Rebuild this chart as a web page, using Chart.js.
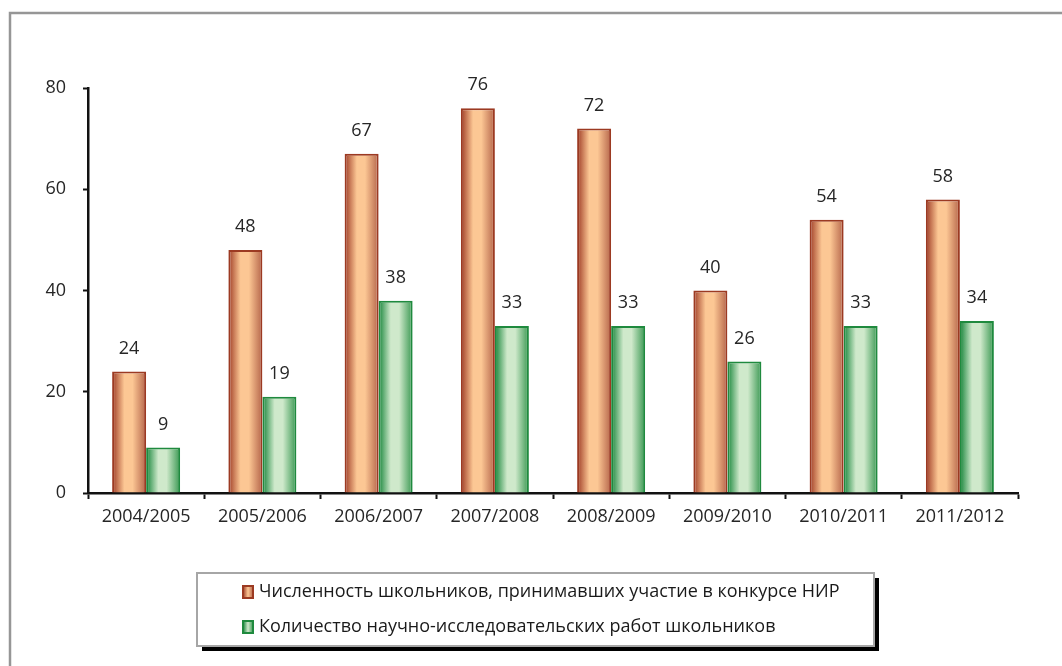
<!DOCTYPE html>
<html>
<head>
<meta charset="utf-8">
<script src="https://cdn.jsdelivr.net/npm/chart.js@4/dist/chart.umd.min.js"></script>
<style>
	html, body { margin: 0; padding: 0; background: #fff; }
	#wrap { width: 1062px; height: 666px; position: relative; }
</style>
</head>
<body>
<div id="wrap"><canvas id="barChart" width="1062" height="666"></canvas></div>
<script>
var years = ['2004/2005', '2005/2006', '2006/2007', '2007/2008', '2008/2009', '2009/2010', '2010/2011', '2011/2012'];
var pupils = [24, 48, 67, 76, 72, 40, 54, 58];
var works = [9, 19, 38, 33, 33, 26, 33, 34];
var seriesNames = [
	'Численность школьников, принимавших участие в конкурсе НИР',
	'Количество научно-исследовательских работ школьников'
];
var yTicks = [0, 20, 40, 60, 80];

var FONT = '"Open Sans", sans-serif';
var CAT_PCT = 0.585;

// dark edge -> light middle -> darker edge
var shades = [
	{ stops: ['#9e3b25', '#fcc794', '#fcc794', '#b5654a'], border: '#9c3a22' },
	{ stops: ['#17853a', '#cfe9cb', '#cfe9cb', '#3a9852'], border: '#1f8a3e' }
];

function barFill(ctx) {
	var chart = ctx.chart;
	var xs = chart.scales.x;
	var sh = shades[ctx.datasetIndex];
	if (!xs || ctx.dataIndex === undefined || !xs.width) return sh.stops[1];
	var cw = xs.width / years.length;
	var bw = cw * CAT_PCT / 2;
	var c = xs.getPixelForValue(ctx.dataIndex);
	var x0 = ctx.datasetIndex === 0 ? c - bw : c;
	var g = chart.ctx.createLinearGradient(x0, 0, x0 + bw, 0);
	g.addColorStop(0, sh.stops[0]);
	g.addColorStop(0.36, sh.stops[1]);
	g.addColorStop(0.6, sh.stops[2]);
	g.addColorStop(1, sh.stops[3]);
	return g;
}

var framePlugin = {
	id: 'framePlugin',
	beforeDraw: function (chart) {
		var c = chart.ctx;
		c.save();
		c.fillStyle = '#fff';
		c.fillRect(0, 0, chart.width, chart.height);
		c.strokeStyle = '#969696';
		c.lineWidth = 2.5;
		c.strokeRect(10, 13, chart.width + 20, chart.height + 20);
		c.restore();
	},
	afterDatasetsDraw: function (chart) {
		var c = chart.ctx;
		c.save();
		c.font = '18px ' + FONT;
		c.fillStyle = '#262626';
		c.textAlign = 'center';
		c.textBaseline = 'middle';
		chart.data.datasets.forEach(function (ds, di) {
			chart.getDatasetMeta(di).data.forEach(function (el, i) {
				c.fillText(String(ds.data[i]), el.x, el.y - 23);
			});
		});
		c.restore();
	},
	afterDraw: function (chart) {
		var c = chart.ctx;
		var bx = 197, by = 573, bw = 677, bh = 73;
		c.save();
		c.fillStyle = '#000';
		c.fillRect(bx + 5, by + 5, bw, bh);
		c.fillStyle = '#fff';
		c.fillRect(bx, by, bw, bh);
		c.strokeStyle = '#a6a6a6';
		c.lineWidth = 2;
		c.strokeRect(bx, by, bw, bh);
		c.font = '18px ' + FONT;
		c.textBaseline = 'middle';
		c.textAlign = 'left';
		var rows = [592, 627];
		chart.data.datasets.forEach(function (ds, di) {
			var sh = shades[di];
			var y = rows[di];
			var g = c.createLinearGradient(243, 0, 253, 0);
			g.addColorStop(0, sh.stops[0]);
			g.addColorStop(0.5, sh.stops[1]);
			g.addColorStop(1, sh.stops[3]);
			c.fillStyle = g;
			c.fillRect(243, y - 6, 10, 12);
			c.strokeStyle = sh.border;
			c.lineWidth = 2;
			c.strokeRect(243, y - 6, 10, 12);
			c.fillStyle = '#1a1a1a';
			c.fillText(ds.label, 259, y);
		});
		c.restore();
	}
};

var chart = new Chart(document.getElementById('barChart'), {
	type: 'bar',
	data: {
		labels: years,
		datasets: [{
			label: seriesNames[0],
			data: pupils,
			backgroundColor: barFill,
			borderColor: shades[0].border,
			borderWidth: 2,
			borderSkipped: 'bottom'
		}, {
			label: seriesNames[1],
			data: works,
			backgroundColor: barFill,
			borderColor: shades[1].border,
			borderWidth: 2,
			borderSkipped: 'bottom'
		}]
	},
	options: {
		responsive: false,
		animation: false,
		datasets: {
			bar: {
				categoryPercentage: CAT_PCT,
				barPercentage: 1
			}
		},
		layout: {
			padding: { left: 0, top: 88, right: 44, bottom: 0 }
		},
		plugins: {
			legend: { display: false },
			tooltip: { enabled: false }
		},
		scales: {
			x: {
				afterFit: function (s) { s.height = 173; },
				grid: {
					drawOnChartArea: false,
					drawTicks: true,
					tickLength: 6,
					tickWidth: 2,
					tickColor: '#111',
					offset: true
				},
				border: { color: '#111', width: 2.5 },
				ticks: {
					padding: 7,
					color: '#262626',
					font: { family: FONT, size: 18 }
				}
			},
			y: {
				min: 0,
				max: 80,
				afterFit: function (s) { s.width = 88; },
				afterBuildTicks: function (s) {
					s.ticks = yTicks.map(function (v) { return { value: v }; });
				},
				grid: {
					drawOnChartArea: false,
					drawTicks: true,
					tickLength: 5,
					tickWidth: 2,
					tickColor: '#111'
				},
				border: { color: '#111', width: 2.5 },
				ticks: {
					padding: 17,
					color: '#262626',
					font: { family: FONT, size: 18 }
				}
			}
		}
	},
	plugins: [framePlugin]
});
</script>
</body>
</html>
